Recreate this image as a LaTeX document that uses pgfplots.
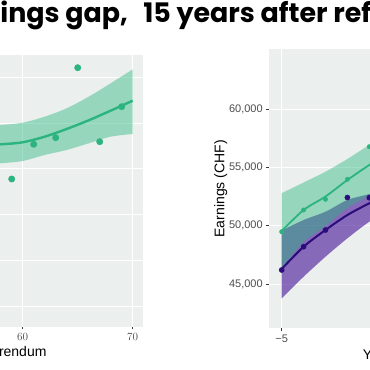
\documentclass[border=0pt]{standalone}
\usepackage{pgfplots}
\pgfplotsset{compat=1.18}
\usepgfplotslibrary{fillbetween}
\usepackage{fontspec}
\setmainfont{Liberation Sans}
\newfontfamily\titlefont{Poppins}
\definecolor{bg}{RGB}{235,239,238}
\definecolor{grn}{RGB}{44,180,126}
\definecolor{grnband}{RGB}{37,183,126}
\definecolor{pur}{RGB}{42,12,122}
\definecolor{purband}{RGB}{68,16,150}
\definecolor{ticktext}{RGB}{77,77,77}
\pgfplotsset{
  base/.style={
    scale only axis,
    axis background/.style={fill=bg},
    axis line style={draw=none},
    grid=major,
    major grid style={white, line width=0.9pt},
    tick align=outside, tick pos=left, major tick length=2.75pt,
    tick style={color=ticktext!70!black, line width=0.6pt},
    ticklabel style={font=\fontsize{11}{13}\selectfont, text=ticktext},
    scaled ticks=false,
  }
}
\begin{document}
\begin{tikzpicture}
% ---------- left panel ----------
\begin{axis}[base, at={(-87.3pt,43.3pt)}, anchor=south west,
  width=230.56pt, height=271.2pt,
  xmin=50, xmax=70.96, ymin=-0.453, ymax=5.481,
  xtick={50,60,70}, ytick={0,1,2,3,4,5}, yticklabels={}]
\addplot[name path=lu, draw=none, smooth] coordinates {
 (56,3.93) (58,3.961) (60,4.011) (62,4.142) (64,4.326) (66,4.580) (68,4.873) (70,5.179)};
\addplot[name path=ll, draw=none, smooth] coordinates {
 (56,3.10) (58,3.123) (60,3.173) (62,3.304) (64,3.414) (66,3.560) (68,3.705) (70,3.764)};
\addplot[fill=grnband, fill opacity=0.43, draw=none] fill between[of=lu and ll];
\addplot[grn, line width=2.4pt, smooth] coordinates {
 (56,3.52) (58,3.538) (60,3.582) (62,3.705) (64,3.873) (66,4.063) (68,4.274) (70,4.492)};
\addplot[only marks, mark=*, mark size=3.2pt, color=grn] coordinates {
 (59,2.779) (61,3.538) (63,3.683) (65,5.214) (67,3.595) (69,4.361)};
\end{axis}
% ---------- right panel ----------
\begin{axis}[base, at={(269pt,41.7pt)}, anchor=south west,
  width=341.2pt, height=279pt,
  xmin=-5.58, xmax=10, ymin=41197, ymax=65152,
  xtick={-5,0,5,10}, xticklabels={−5,0,5,10},
  ytick={45000,50000,55000,60000},
  yticklabels={{45,000},{50,000},{55,000},{60,000}}]
\addplot[name path=pu, draw=none, smooth] coordinates {
 (-5,49594) (-4,50495) (-3,51208) (-2,52212) (-1,52728) (0,53300)};
\addplot[name path=pl, draw=none, smooth] coordinates {
 (-5,43772) (-4,45627) (-3,47344) (-2,48924) (-1,50349) (0,51500)};
\addplot[fill=purband, fill opacity=0.6, draw=none] fill between[of=pu and pl];
\addplot[name path=gu, draw=none, smooth] coordinates {
 (-5,52796) (-4,53715) (-3,54642) (-2,55733) (-1,56935) (0,58000)};
\addplot[name path=gl, draw=none, smooth] coordinates {
 (-5,46349) (-4,48606) (-3,49980) (-2,51526) (-1,52556) (0,53600)};
\addplot[fill=grnband, fill opacity=0.43, draw=none] fill between[of=gu and gl];
\addplot[pur, line width=2pt, smooth] coordinates {
 (-5,46288) (-4,48203) (-3,49637) (-2,50925) (-1,51929) (0,52800)};
\addplot[grn, line width=1.8pt, smooth] coordinates {
 (-5,49551) (-4,51354) (-3,52513) (-2,53930) (-1,55218) (0,56400)};
\addplot[only marks, mark=*, mark size=2.6pt, color=pur] coordinates {
 (-5,46202) (-4,48203) (-3,49637) (-2,52427) (-1,52410)};
\addplot[only marks, mark=*, mark size=2.2pt, color=grn] coordinates {
 (-5,49491) (-4,51354) (-3,52273) (-2,53990) (-1,56789)};
\end{axis}
% ---------- texts ----------
\node[anchor=base west, inner sep=0pt, font=\titlefont\bfseries\fontsize{26.9}{31}\selectfont]
  at (0.2pt,347.3pt) {ings gap,\hspace{0.57em}15 years after referendum};
\node[anchor=base east, inner sep=0pt, font=\fontsize{14}{16}\selectfont] at (46.7pt,13.3pt) {Age at referendum};
\node[anchor=base west, inner sep=0pt, font=\fontsize{14}{16}\selectfont] at (362.6pt,10.7pt) {Years relative to referendum};
\node[rotate=90, anchor=base, inner sep=0pt, font=\fontsize{14}{16}\selectfont] at (224.3pt,181.2pt) {Earnings (CHF)};
\pgfresetboundingbox
\useasboundingbox (0,0) rectangle (370pt,370pt);
\end{tikzpicture}
\end{document}
